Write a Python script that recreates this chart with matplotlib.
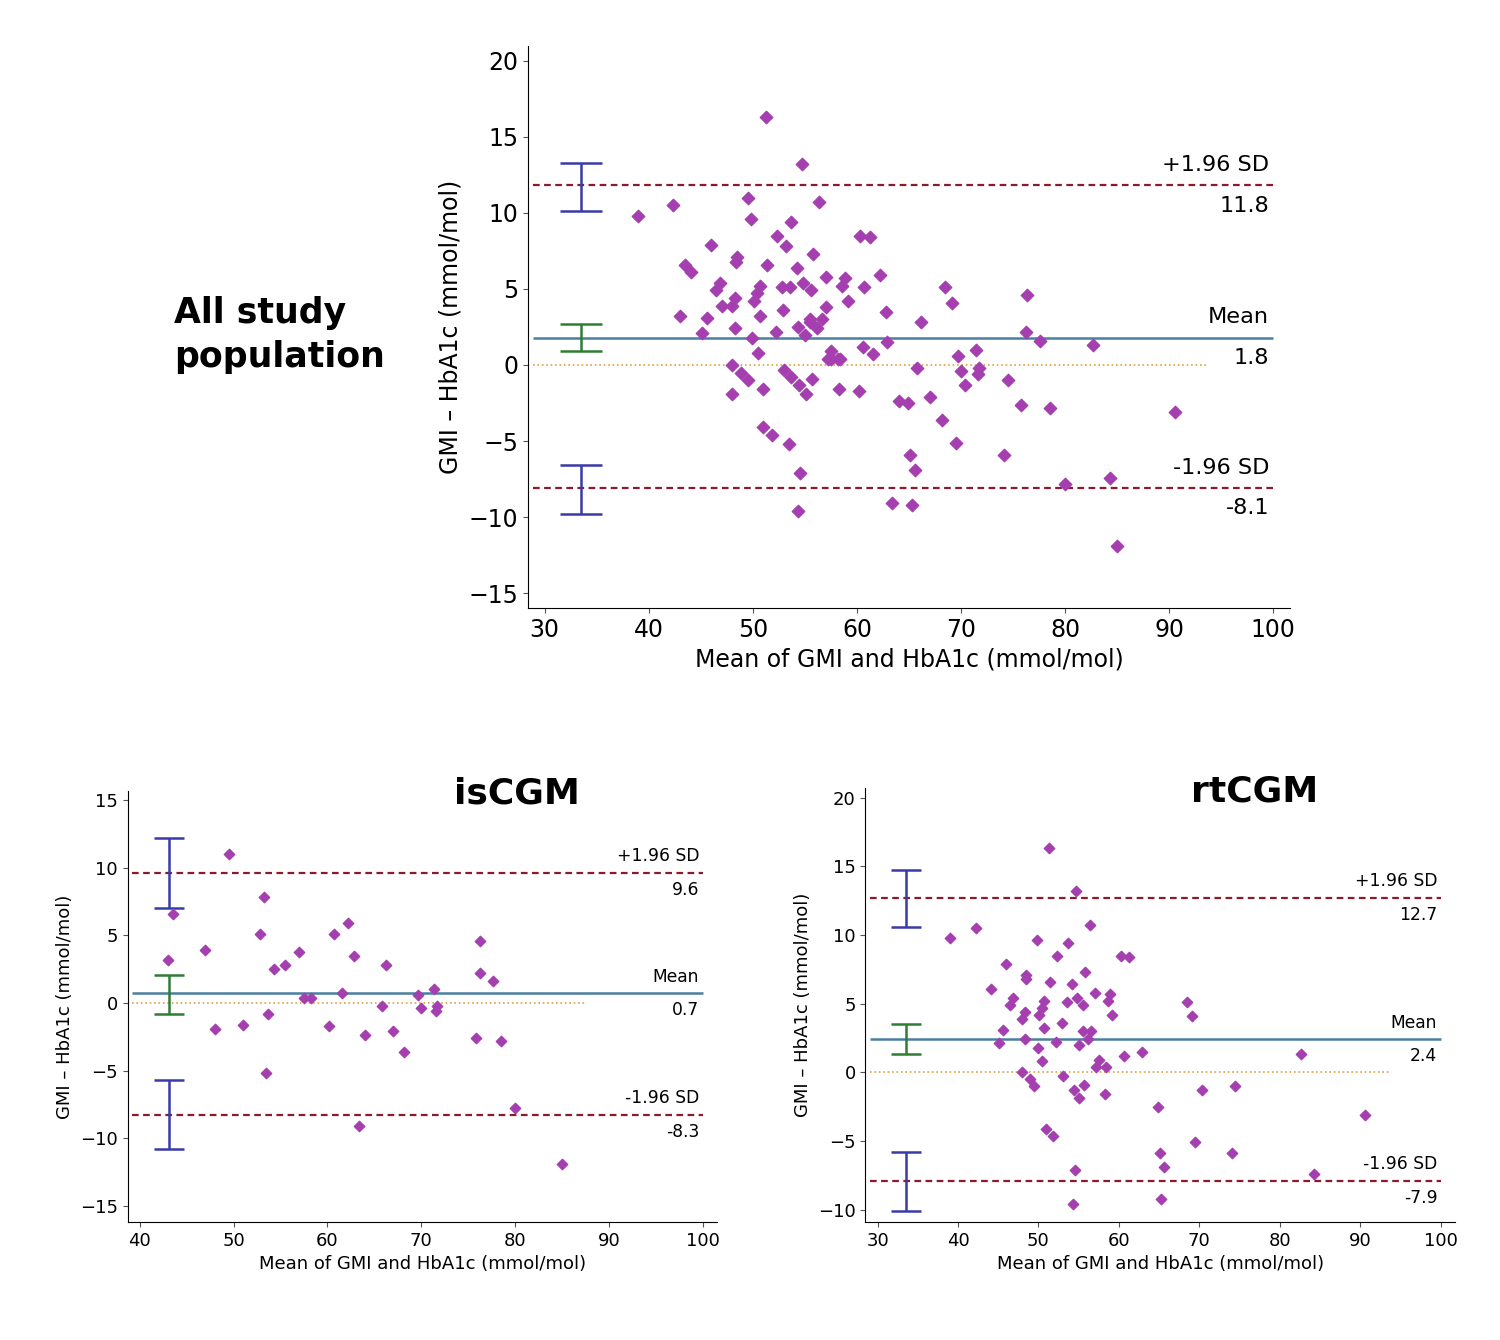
import numpy as np
import matplotlib.pyplot as plt

# isCGM: mean of GMI and HbA1c, difference
is_x = [43, 43.5, 47, 48, 49.5, 51, 52.8, 53.2, 53.5, 53.7, 54.3, 55.5, 57, 57.5, 58.2,
        60.2, 60.7, 61.5, 62.2, 62.8, 63.4, 64, 66.2, 65.8, 67, 68.2, 69.7, 70, 71.4,
        71.7, 71.6, 75.8, 76.2, 76.3, 77.6, 78.5, 80, 85]
is_y = [3.2, 6.6, 3.9, -1.9, 11.0, -1.6, 5.1, 7.8, -5.2, -0.8, 2.5, 2.8, 3.8, 0.4, 0.4,
        -1.7, 5.1, 0.7, 5.9, 3.5, -9.1, -2.4, 2.8, -0.2, -2.1, -3.6, 0.6, -0.4, 1.0,
        -0.2, -0.6, -2.6, 2.2, 4.6, 1.6, -2.8, -7.8, -11.9]

# rtCGM
rt_x = [51.3, 54.7, 39.0, 42.3, 56.4, 49.8, 53.7, 52.3, 60.3, 61.3, 46.0, 55.8, 48.5, 48.4,
        51.4, 54.2, 44.1, 57.0, 58.9, 46.8, 54.8, 50.7, 58.6, 68.5, 53.6, 46.5, 55.6, 50.4,
        48.3, 50.1, 59.1, 69.1, 48.0, 52.9, 50.7, 45.6, 55.5, 56.6, 48.3, 52.2, 56.2, 45.1,
        55.0, 49.9, 62.9, 60.6, 82.7, 50.5, 57.5, 57.2, 58.4, 48.0, 48.9, 53.0, 49.5, 55.7,
        54.4, 70.4, 74.5, 55.1, 58.3, 64.9, 90.6, 51.0, 51.8, 69.5, 65.1, 74.1, 65.6, 54.5,
        84.3, 65.3, 54.3]
rt_y = [16.3, 13.2, 9.8, 10.5, 10.7, 9.6, 9.4, 8.5, 8.5, 8.4, 7.9, 7.3, 7.1, 6.8,
        6.6, 6.4, 6.1, 5.8, 5.7, 5.4, 5.4, 5.2, 5.2, 5.1, 5.1, 4.9, 4.9, 4.7,
        4.4, 4.2, 4.2, 4.1, 3.9, 3.6, 3.2, 3.1, 3.0, 3.0, 2.4, 2.2, 2.4, 2.1,
        2.0, 1.8, 1.5, 1.2, 1.3, 0.8, 0.9, 0.4, 0.4, 0.0, -0.5, -0.3, -1.0, -0.9,
        -1.3, -1.3, -1.0, -1.9, -1.6, -2.5, -3.1, -4.1, -4.6, -5.1, -5.9, -5.9, -6.9, -7.1,
        -7.4, -9.2, -9.6]

all_x = is_x + rt_x
all_y = is_y + rt_y

# limits of agreement: (mean, upper, lower) and CI bars (lo, hi)
all_stats = (1.8, 11.8, -8.1)
is_stats = (0.7, 9.6, -8.3)
rt_stats = (2.4, 12.7, -7.9)
all_ci = [(10.1, 13.3), (0.9, 2.7), (-9.8, -6.6)]
is_ci = [(7.0, 12.2), (-0.8, 2.1), (-10.8, -5.7)]
rt_ci = [(10.6, 14.7), (1.3, 3.5), (-10.1, -5.8)]

PURPLE = '#a53fb0'
RED = '#8b1a2a'
BLUE = '#4a7fa0'


def bland_altman(ax, x, y, stats, ci, ci_x, zero_end, xlim, ylim, xticks, yticks, fs, ms):
    mean, up, lo = stats
    x0 = xlim[0] + 0.5
    xr = 100
    ax.hlines(0, x0, zero_end, color='#e0a040', ls=':', lw=1.2)
    ax.hlines([up, lo], x0, xr, color=RED, lw=1.6, linestyles=(0, (3, 2)))
    ax.hlines(mean, x0, xr, color=BLUE, lw=1.8)
    cols = ['#3a3aa8', '#2e7d32', '#3a3aa8']
    for (a, b), c in zip(ci, cols):
        ax.errorbar([ci_x], [(a + b) / 2], yerr=[[(b - a) / 2], [(b - a) / 2]],
                    color=c, capsize=ms * 1.5, lw=1.8, capthick=1.8)
    ax.scatter(x, y, marker='D', s=ms * 4, color=PURPLE, zorder=3)
    ax.set_xlim(*xlim)
    ax.set_ylim(*ylim)
    ax.set_xticks(xticks)
    ax.set_yticks(yticks)
    for s in ['top', 'right']:
        ax.spines[s].set_visible(False)
    ax.tick_params(labelsize=fs, direction='out', color='#555555')
    xt = xr - 0.4
    dy = (ylim[1] - ylim[0]) * 0.018
    ax.text(xt, up + dy, '+1.96 SD', ha='right', va='bottom', fontsize=fs * 0.95)
    ax.text(xt, up - dy, f'{up:.1f}', ha='right', va='top', fontsize=fs * 0.95)
    ax.text(xt, mean + dy, 'Mean', ha='right', va='bottom', fontsize=fs * 0.95)
    ax.text(xt, mean - dy, f'{mean:.1f}', ha='right', va='top', fontsize=fs * 0.95)
    ax.text(xt, lo + dy, '-1.96 SD', ha='right', va='bottom', fontsize=fs * 0.95)
    ax.text(xt, lo - dy, f'{lo:.1f}', ha='right', va='top', fontsize=fs * 0.95)
    ax.set_xlabel('Mean of GMI and HbA1c (mmol/mol)', fontsize=fs)
    ax.set_ylabel('GMI – HbA1c (mmol/mol)', fontsize=fs)


fig = plt.figure(figsize=(15, 13.4), dpi=100)

ax1 = fig.add_axes([0.352, 0.546, 0.508, 0.42])
bland_altman(ax1, all_x, all_y, all_stats, all_ci, 33.5, 93.7, (28.4, 101.6), (-16, 21),
             range(30, 101, 10), range(-15, 21, 5), 17, 10)

ax2 = fig.add_axes([0.085, 0.088, 0.393, 0.322])
bland_altman(ax2, is_x, is_y, is_stats, is_ci, 43.1, 87.5, (38.7, 101.5), (-16.2, 15.7),
             range(40, 101, 10), range(-15, 16, 5), 13, 7)
ax2.set_title('isCGM', fontsize=26, fontweight='bold', x=0.66, y=0.95)

ax3 = fig.add_axes([0.577, 0.088, 0.393, 0.324])
bland_altman(ax3, rt_x, rt_y, rt_stats, rt_ci, 33.5, 93.7, (28.5, 101.8), (-10.9, 20.7),
             range(30, 101, 10), range(-10, 21, 5), 13, 7)
ax3.set_title('rtCGM', fontsize=26, fontweight='bold', x=0.66, y=0.95)

fig.text(0.116, 0.75, 'All study\npopulation', fontsize=25, fontweight='bold',
         ha='left', va='center', linespacing=1.4)

fig.savefig('out.png', dpi=100)
